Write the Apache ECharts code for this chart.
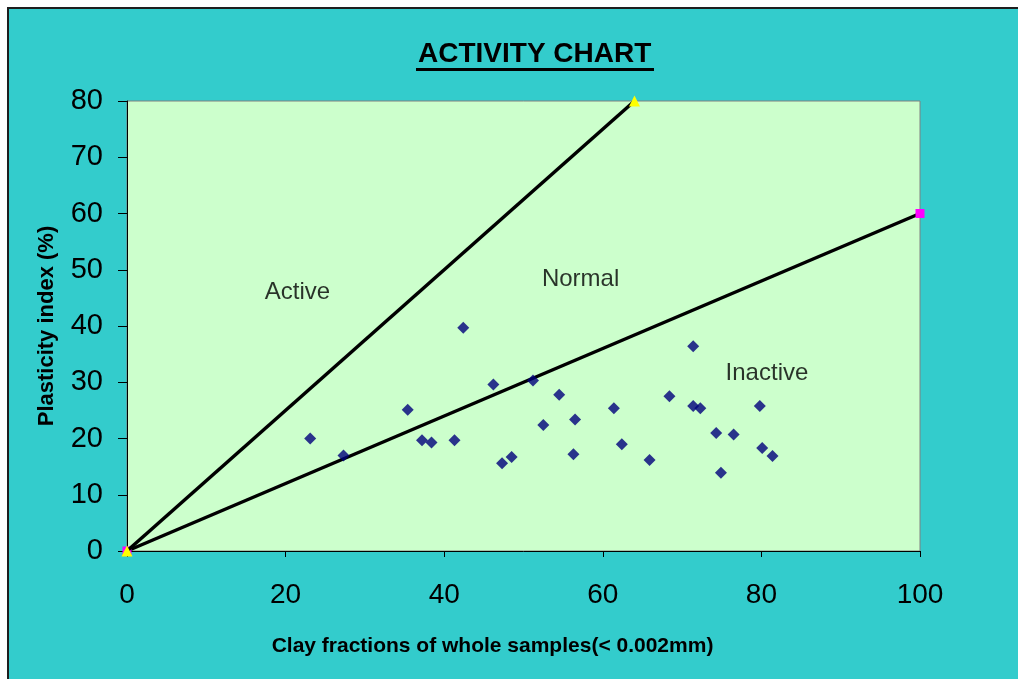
<!DOCTYPE html>
<html>
<head>
<meta charset="utf-8">
<script src="https://cdn.jsdelivr.net/npm/echarts@6/dist/echarts.min.js"></script>
<style>
  html, body { margin: 0; padding: 0; background: #ffffff; }
  .frame {
    position: absolute; left: 7px; top: 7px; width: 1030px; height: 690px;
    background: #33cccc; border: 2px solid #1e1e1e;
  }
  #chart { position: absolute; left: 0; top: 0; width: 1018px; height: 679px; }
</style>
</head>
<body>
<div class="frame"></div>
<div id="chart"></div>
<script>
// clay fraction (%) vs plasticity index (%) of the samples
const clayFraction = [23.1, 27.3, 35.4, 37.2, 38.4, 41.3, 42.4, 46.2, 47.3, 48.5,
  51.2, 52.5, 54.5, 56.3, 56.5, 61.4, 62.4, 65.9, 68.4, 71.4,
  71.4, 72.3, 74.3, 74.9, 76.5, 79.8, 80.1, 81.4];
const plasticityIndex = [20.0, 17.0, 25.1, 19.7, 19.3, 19.7, 39.7, 29.6, 15.6, 16.7,
  30.3, 22.4, 27.8, 17.2, 23.4, 25.4, 19.0, 16.2, 27.5, 36.4,
  25.8, 25.4, 21.0, 13.9, 20.7, 25.8, 18.3, 16.9];

// boundary lines of the activity chart
const activeLineX = [0, 64];
const activeLineY = [0, 80];
const inactiveLineX = [0, 100];
const inactiveLineY = [0, 60];

// zone labels
const zoneNames = ["Active", "Normal", "Inactive"];
const zoneX = [21.5, 57.2, 80.7];
const zoneY = [45.9, 48.3, 31.6];

const xTicks = [0, 20, 40, 60, 80, 100];
const yTicks = [0, 10, 20, 30, 40, 50, 60, 70, 80];

const font = "Liberation Sans, Arial, sans-serif";
const myChart = echarts.init(document.getElementById("chart"));

const option = {
  backgroundColor: "transparent",
  animation: false,
  title: {
    text: "ACTIVITY CHART",
    left: 418,
    top: 40,
    padding: 0,
    textStyle: { fontFamily: font, fontSize: 28, fontWeight: "bold", color: "#000" }
  },
  graphic: [
    { type: "rect", shape: { x: 416, y: 68, width: 238, height: 3 }, style: { fill: "#000" } }
  ],
  grid: {
    left: 127, top: 101, width: 793, height: 450,
    show: true, backgroundColor: "#ccffcc", borderColor: "#808080", borderWidth: 1
  },
  xAxis: {
    type: "value",
    min: xTicks[0], max: xTicks[xTicks.length - 1], interval: 20,
    name: "Clay fractions of whole samples(< 0.002mm)",
    nameLocation: "middle", nameGap: 85,
    nameTextStyle: {
      fontFamily: font, fontSize: 21, fontWeight: "bold", color: "#000",
      padding: [0, 62, 0, 0]
    },
    axisLine: { lineStyle: { color: "#000", width: 1 } },
    axisTick: { show: true, inside: false, length: 6, lineStyle: { color: "#000" } },
    axisLabel: { fontFamily: font, fontSize: 28, color: "#000", margin: 30 },
    splitLine: { show: false }
  },
  yAxis: {
    type: "value",
    min: yTicks[0], max: yTicks[yTicks.length - 1], interval: 10,
    name: "Plasticity index (%)",
    nameLocation: "middle", nameGap: 69, nameRotate: 90,
    nameTextStyle: { fontFamily: font, fontSize: 22, fontWeight: "bold", color: "#000" },
    axisLine: { show: true, lineStyle: { color: "#000", width: 1 } },
    axisTick: { show: true, inside: false, length: 9, lineStyle: { color: "#000" } },
    axisLabel: { fontFamily: font, fontSize: 29, color: "#000", margin: 24 },
    splitLine: { show: false }
  },
  series: [
    {
      name: "Inactive boundary",
      type: "line",
      data: inactiveLineX.map((x, i) => [x, inactiveLineY[i]]),
      lineStyle: { color: "#000", width: 3.5 },
      symbol: "rect", symbolSize: 9,
      itemStyle: { color: "#ff00ff" },
      clip: false, z: 3
    },
    {
      name: "Active boundary",
      type: "line",
      data: activeLineX.map((x, i) => [x, activeLineY[i]]),
      lineStyle: { color: "#000", width: 3.5 },
      symbol: "triangle", symbolSize: 11,
      itemStyle: { color: "#ffff00" },
      clip: false, z: 4
    },
    {
      name: "Samples",
      type: "scatter",
      data: clayFraction.map((x, i) => [x, plasticityIndex[i]]),
      symbol: "diamond", symbolSize: 12,
      itemStyle: { color: "#00007a" },
      z: 5
    },
    {
      name: "Zones",
      type: "scatter",
      data: zoneNames.map((n, i) => ({ value: [zoneX[i], zoneY[i]], name: n })),
      symbolSize: 0,
      label: {
        show: true, position: "inside", formatter: "{b}",
        fontFamily: font, fontSize: 24, color: "#000"
      },
      z: 6
    }
  ]
};

myChart.setOption(option);
window.addEventListener("resize", () => myChart.resize());
</script>
</body>
</html>
